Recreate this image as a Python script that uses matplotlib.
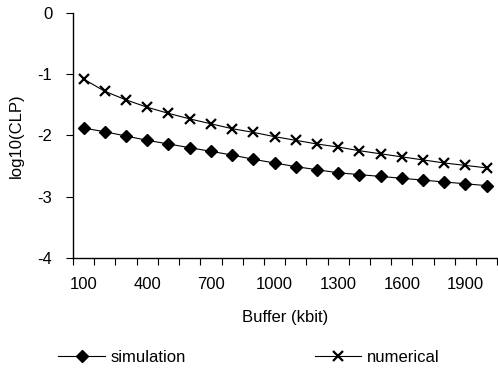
import numpy as np
import matplotlib
matplotlib.use('Agg')
import matplotlib.pyplot as plt

plt.rcParams['font.family'] = ['Liberation Sans', 'DejaVu Sans']

# ── 数据 ──────────────────────────────────────────────────────────────
buffer_kbit = [100, 200, 300, 400, 500, 600, 700, 800, 900, 1000,
               1100, 1200, 1300, 1400, 1500, 1600, 1700, 1800, 1900, 2000]
simulation = [-1.88, -1.94, -2.01, -2.08, -2.14, -2.20, -2.26, -2.32, -2.39, -2.45,
              -2.51, -2.56, -2.61, -2.64, -2.67, -2.70, -2.73, -2.76, -2.79, -2.82]
numerical = [-1.08, -1.28, -1.42, -1.54, -1.64, -1.73, -1.81, -1.89, -1.95, -2.02,
             -2.08, -2.14, -2.19, -2.25, -2.30, -2.35, -2.40, -2.45, -2.49, -2.53]

FS = 12

fig = plt.figure(figsize=(4.98, 3.70), dpi=100)
ax = fig.add_axes([0.1466, 0.303, 0.852, 0.662])

x = np.arange(len(buffer_kbit))
ax.plot(x, simulation, color='black', linewidth=0.8, marker='D',
        markersize=6, label='simulation')
ax.plot(x, numerical, color='black', linewidth=0.8, marker='x',
        markersize=7.5, markeredgewidth=1.6, label='numerical')

# 类别轴：刻度在类别边界，标签在类别中间
ax.set_xlim(-0.5, len(x) - 0.5)
ax.set_xticks(np.arange(len(x) + 1) - 0.5)
ax.set_xticklabels([])
ax.set_xticks(x[::3], minor=True)
ax.set_xticklabels([str(b) for b in buffer_kbit[::3]], minor=True, fontsize=FS)
ax.tick_params(axis='x', which='minor', length=0, pad=14)
ax.tick_params(axis='x', which='major', direction='out', length=5, width=0.8)

ax.set_ylim(-4, 0)
ax.set_yticks([-4, -3, -2, -1, 0])
ax.set_yticklabels(['-4', '-3', '-2', '-1', '0'], fontsize=FS)
ax.tick_params(axis='y', direction='out', length=5, width=0.8, pad=10)

for side in ['top', 'right']:
    ax.spines[side].set_visible(False)
for side in ['left', 'bottom']:
    ax.spines[side].set_linewidth(1.0)

ax.set_xlabel('Buffer (kbit)', fontsize=FS, labelpad=13)
ax.set_ylabel('log10(CLP)', fontsize=FS, labelpad=10)

fig.legend(loc='center', bbox_to_anchor=(0.50, 0.035), ncol=2, frameon=False,
           fontsize=FS, columnspacing=7.7, handlelength=2.8, handletextpad=0.35)

fig.savefig('out.png', dpi=100)
plt.close(fig)
